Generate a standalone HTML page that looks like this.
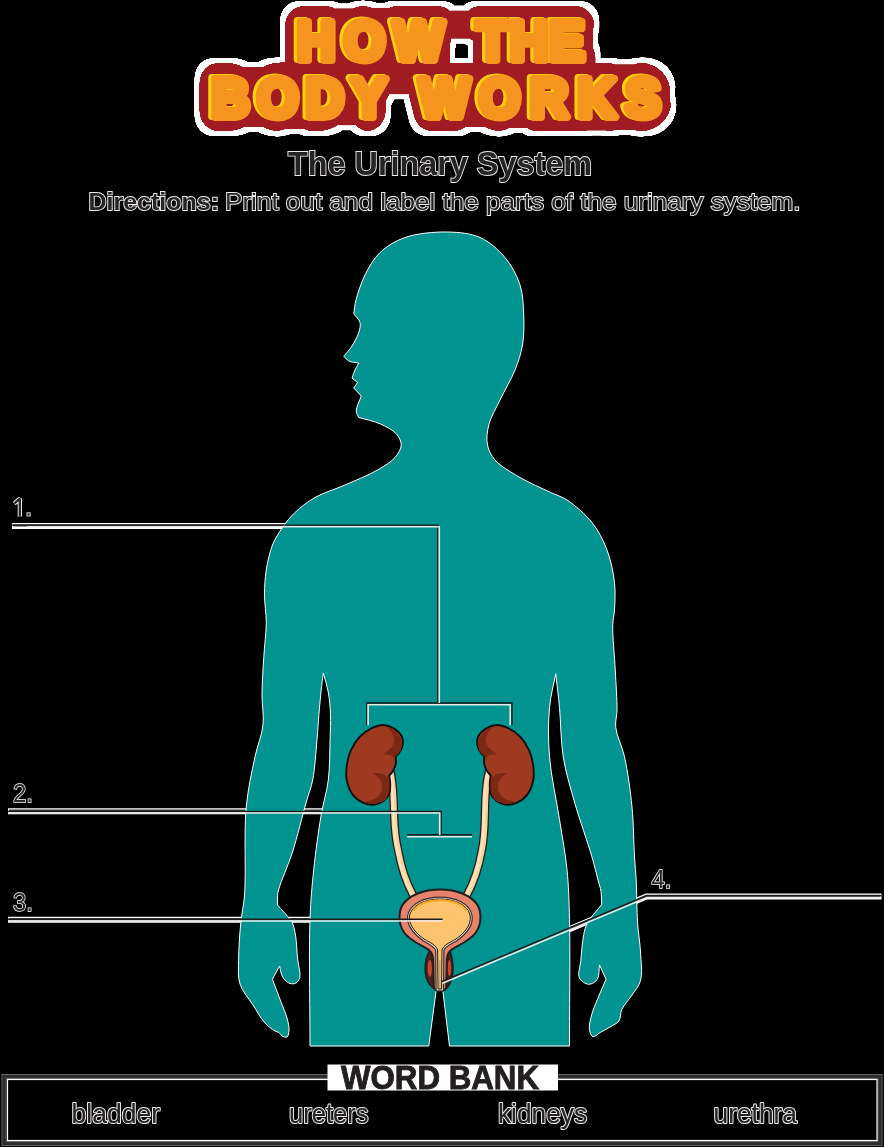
<!DOCTYPE html>
<html><head><meta charset="utf-8">
<style>
html,body{margin:0;padding:0;background:#000;}
body{width:884px;height:1147px;overflow:hidden;position:relative;font-family:"Liberation Sans",sans-serif;}
svg{position:absolute;left:0;top:0;will-change:transform;}
</style></head>
<body>
<svg width="884" height="1147" viewBox="0 0 884 1147">
<!-- Title -->
<defs>
<filter id="tf" x="-10%" y="-30%" width="120%" height="160%">
  <feComponentTransfer in="SourceAlpha" result="a"><feFuncA type="linear" slope="4"/></feComponentTransfer>
  <feMorphology operator="dilate" radius="4" in="a" result="d"/>
  <feMorphology operator="erode" radius="4" in="d" result="c"/>
  <feFlood flood-color="#fff"/>
  <feComposite in2="c" operator="in" result="white"/>
  <feMorphology operator="erode" radius="5.2" in="c" result="e"/>
  <feFlood flood-color="#a11d21"/>
  <feComposite in2="e" operator="in" result="red"/>
  <feMerge><feMergeNode in="white"/><feMergeNode in="red"/></feMerge>
</filter>
</defs>
<g font-family="Liberation Sans" font-weight="bold" font-size="56" stroke-linejoin="round">
  <g filter="url(#tf)">
  <g fill="#fff" stroke="#fff" stroke-width="39.5" transform="translate(-1.5,-0.5) scale(0.95,1)">
    <rect x="321.05" y="22" width="137.89" height="36" stroke="none"/><rect x="510.00" y="22" width="97.37" height="36" stroke="none"/><rect x="231.05" y="79" width="167.89" height="36" stroke="none"/><rect x="450.00" y="79" width="237.37" height="36" stroke="none"/>
    <text x="312.63" y="60" textLength="154.74" lengthAdjust="spacing">HOW</text><text x="501.58" y="60" textLength="114.21" lengthAdjust="spacing">THE</text><text x="222.63" y="117" textLength="184.74" lengthAdjust="spacing">BODY</text><text x="441.58" y="117" textLength="254.21" lengthAdjust="spacing">WORKS</text>
  </g>
  </g>
  <g fill="#ffd10f" stroke="#ffd10f" stroke-width="8" transform="translate(-3,-1) scale(0.95,1)">
    <text x="312.63" y="60" textLength="154.74" lengthAdjust="spacing">HOW</text><text x="501.58" y="60" textLength="114.21" lengthAdjust="spacing">THE</text><text x="222.63" y="117" textLength="184.74" lengthAdjust="spacing">BODY</text><text x="441.58" y="117" textLength="254.21" lengthAdjust="spacing">WORKS</text>
  </g>
  <g fill="#f7941d" stroke="#f7941d" stroke-width="8" transform="scale(0.95,1)">
    <text x="312.63" y="60" textLength="154.74" lengthAdjust="spacing">HOW</text><text x="501.58" y="60" textLength="114.21" lengthAdjust="spacing">THE</text><text x="222.63" y="117" textLength="184.74" lengthAdjust="spacing">BODY</text><text x="441.58" y="117" textLength="254.21" lengthAdjust="spacing">WORKS</text>
  </g>
</g>
<!-- subtitle -->
<g font-family="Liberation Sans" fill="#262425" stroke="#ededed" stroke-width="1.8" paint-order="stroke">
  <text x="288" y="175" font-size="33.5" font-weight="bold" textLength="304" lengthAdjust="spacingAndGlyphs">The Urinary System</text>
  <text x="88.5" y="210" font-size="24" font-weight="bold" textLength="130.5" lengthAdjust="spacingAndGlyphs">Directions:</text>
  <text x="225" y="210" font-size="24" textLength="575.5" lengthAdjust="spacingAndGlyphs">Print out and label the parts of the urinary system.</text>
</g>
<!-- halo lines -->
<g fill="none" stroke-linecap="butt">
  <g stroke="#fff" stroke-width="6">
  <line x1="12" y1="526" x2="300" y2="526"/>
  <line x1="8" y1="811.2" x2="345" y2="811.2"/>
  <line x1="8" y1="919.8" x2="330" y2="919.8"/>
  <polyline points="540,941.7 646.5,896.6 881.5,896.6"/>
  </g>
  <g stroke="#3a3839" stroke-width="2.4">
  <line x1="13" y1="525.4" x2="300" y2="525.4"/>
  <line x1="9" y1="810.8" x2="345" y2="810.8"/>
  <line x1="9" y1="919.2" x2="330" y2="919.2"/>
  <polyline points="540,940.9 646.5,896 880.5,896"/>
  </g>
</g>
<!-- body -->
<path d="M447.50,232.00 C459.08,232.23 470.36,233.18 480.00,237.50 C489.50,241.75 498.31,249.53 505.00,257.50 C511.61,265.39 516.88,275.32 520.00,285.00 C523.06,294.51 523.34,304.98 523.75,315.00 C524.16,324.98 524.09,335.55 522.50,345.00 C521.02,353.81 518.40,361.44 515.00,370.00 C511.15,379.71 504.55,390.41 500.00,400.00 C495.88,408.67 490.74,416.96 488.75,425.00 C487.05,431.88 486.27,438.96 487.50,445.00 C488.62,450.52 490.93,455.29 495.00,460.00 C500.48,466.36 511.01,472.21 520.00,477.50 C529.52,483.11 542.10,488.40 550.75,492.50 C557.00,495.47 561.30,496.25 567.00,500.00 C574.81,505.15 585.27,513.98 592.00,522.50 C598.49,530.72 603.27,540.18 607.00,550.00 C610.85,560.14 613.31,572.05 614.50,582.50 C615.58,591.99 614.95,602.22 614.50,610.00 C614.16,615.76 612.94,618.65 612.75,625.00 C612.42,635.97 614.53,655.44 615.25,670.00 C615.93,683.72 617.15,699.39 617.00,710.00 C616.90,717.03 615.03,720.99 615.75,727.50 C616.69,736.08 622.01,745.59 624.50,756.75 C627.71,771.15 630.33,790.23 632.00,807.00 C633.65,823.65 633.67,843.53 634.50,857.00 C635.07,866.14 635.73,871.14 636.20,880.00 C636.84,892.10 636.75,910.09 637.60,923.00 C638.30,933.63 640.02,942.35 640.50,952.00 C640.98,961.58 642.61,973.01 640.50,980.70 C638.89,986.55 635.06,990.27 632.00,995.00 C628.84,999.88 623.98,1004.75 621.80,1009.50 C620.02,1013.39 620.97,1018.05 618.90,1021.00 C616.93,1023.80 613.08,1025.10 610.00,1027.00 C606.85,1028.94 603.20,1030.76 600.20,1032.50 C597.60,1034.00 594.81,1037.33 593.00,1036.80 C591.23,1036.28 589.86,1032.51 589.40,1029.60 C588.78,1025.66 590.30,1019.98 591.60,1015.00 C593.04,1009.47 595.68,1003.78 598.00,998.00 C600.46,991.89 603.33,985.53 606.00,979.30 C603.83,974.50 601.67,969.70 599.50,964.90 C598.77,969.70 599.53,976.02 597.30,979.30 C595.46,982.01 591.58,984.42 588.70,984.30 C585.62,984.17 580.94,981.08 579.40,977.80 C577.50,973.76 580.19,966.91 580.80,960.60 C581.55,952.84 582.26,941.55 583.70,934.70 C584.68,930.04 585.17,927.29 587.30,923.20 C590.28,917.47 596.90,910.73 601.70,904.50 C601.47,900.17 601.65,895.67 601.00,891.50 C600.38,887.52 599.17,884.49 598.00,880.00 C596.34,873.65 594.68,866.27 592.00,857.00 C587.82,842.56 579.46,819.49 574.50,802.00 C570.05,786.32 565.75,772.47 563.25,757.00 C560.66,741.00 560.89,722.41 559.50,707.50 C558.35,695.17 557.00,685.00 555.75,673.75 C553.67,685.00 550.64,695.13 549.50,707.50 C548.14,722.31 548.13,739.40 549.50,756.75 C551.06,776.46 556.45,799.76 559.50,819.50 C562.22,837.11 565.33,852.79 567.00,869.50 C568.66,886.13 568.99,899.03 569.50,919.50 C570.31,952.05 569.50,1003.83 569.50,1046.00 C529.50,1046.00 489.50,1046.00 449.50,1046.00 C447.17,1026.67 444.83,1007.33 442.50,988.00 C440.50,988.00 438.50,988.00 436.50,988.00 C433.92,1007.33 431.33,1026.67 428.75,1046.00 C389.17,1046.00 349.58,1046.00 310.00,1046.00 C310.00,1003.83 308.78,952.04 310.00,919.50 C310.77,899.02 311.95,886.54 313.75,869.50 C315.64,851.58 318.50,830.67 321.25,814.50 C323.44,801.62 326.81,792.02 328.30,780.00 C329.89,767.10 329.74,751.37 330.10,739.50 C330.38,730.20 330.83,722.67 330.50,714.60 C330.19,706.93 329.57,699.33 328.30,692.20 C327.11,685.50 324.97,679.40 323.30,673.00 C322.60,678.67 321.87,683.81 321.20,690.00 C320.39,697.44 319.60,706.37 318.90,714.60 C318.20,722.87 317.85,730.20 317.00,739.50 C315.92,751.37 314.95,768.63 312.70,780.00 C311.01,788.53 308.76,793.17 306.25,802.00 C302.48,815.28 297.45,836.57 292.50,852.00 C288.12,865.63 280.44,882.33 278.50,890.00 C277.69,893.21 277.67,894.58 277.50,897.00 C277.32,899.57 277.50,902.33 277.50,905.00 C281.33,909.33 286.45,914.87 289.00,918.00 C290.37,919.68 291.11,920.17 292.00,922.00 C293.46,925.00 294.61,929.96 295.50,935.00 C296.69,941.74 296.83,951.53 297.60,959.00 C298.28,965.57 300.85,973.28 299.80,977.50 C299.17,980.03 297.70,982.02 296.00,983.00 C294.39,983.93 291.83,983.99 290.00,983.50 C288.16,983.00 286.37,981.43 285.00,980.00 C283.65,978.59 282.65,976.99 281.80,975.00 C280.73,972.51 280.33,969.00 279.60,966.00 C277.20,970.43 274.80,974.87 272.40,979.30 C275.27,986.87 278.40,995.09 281.00,1002.00 C283.18,1007.80 285.66,1012.99 287.00,1018.00 C288.13,1022.23 289.20,1026.55 289.00,1030.00 C288.85,1032.67 288.39,1036.15 287.00,1037.00 C285.84,1037.71 283.35,1036.79 282.00,1036.00 C280.72,1035.25 280.20,1033.34 279.00,1032.50 C277.85,1031.69 276.56,1031.90 275.00,1031.00 C272.22,1029.40 267.82,1026.08 264.50,1022.40 C260.39,1017.84 256.90,1011.10 253.00,1005.00 C248.75,998.36 242.38,991.51 240.00,984.00 C237.68,976.68 238.61,969.32 238.60,960.60 C238.59,949.55 239.68,934.36 240.80,923.00 C241.73,913.52 243.70,904.76 244.40,897.00 C244.96,890.75 244.88,887.65 245.10,880.00 C245.55,864.16 244.17,828.99 246.25,807.00 C247.98,788.62 251.85,771.53 255.00,756.75 C257.52,744.90 261.87,735.51 263.00,725.00 C264.08,714.93 261.93,705.56 262.00,695.00 C262.08,683.20 263.03,669.78 263.75,657.50 C264.45,645.63 266.21,633.47 266.25,622.50 C266.29,612.78 264.47,603.95 264.50,595.00 C264.53,586.47 264.94,578.28 266.25,570.00 C267.58,561.61 269.52,552.41 272.50,545.00 C275.13,538.45 278.71,532.95 282.50,527.50 C286.23,522.13 290.02,517.23 295.00,512.50 C300.63,507.15 307.35,501.87 315.00,497.50 C323.72,492.52 334.84,489.46 345.00,485.00 C355.66,480.32 368.53,475.21 377.50,470.00 C384.45,465.96 390.97,462.22 395.00,457.50 C398.25,453.69 401.16,449.08 401.25,445.00 C401.34,441.17 399.11,437.02 396.25,433.75 C392.69,429.68 385.97,426.41 380.00,423.75 C373.56,420.88 365.83,419.58 358.75,417.50 C357.92,415.33 356.31,413.63 356.25,411.00 C356.16,407.04 359.58,401.00 361.25,396.00 C358.75,393.33 356.25,390.67 353.75,388.00 C355.00,386.17 356.25,384.33 357.50,382.50 C355.67,381.00 353.83,379.50 352.00,378.00 C353.00,375.33 353.85,372.54 355.00,370.00 C356.11,367.55 357.50,365.33 358.75,363.00 C355.42,362.33 351.37,362.36 348.75,361.00 C346.60,359.88 345.42,357.83 343.75,356.25 C346.17,353.33 348.72,350.95 351.00,347.50 C353.78,343.29 357.32,337.11 358.75,332.50 C359.85,328.94 360.78,325.58 360.00,322.50 C359.19,319.32 355.83,316.67 353.75,313.75 C354.50,309.17 354.65,305.19 356.00,300.00 C357.86,292.83 361.03,282.89 365.00,275.00 C369.01,267.04 373.52,258.68 380.00,252.50 C386.73,246.08 395.15,240.92 405.00,237.50 C416.94,233.35 434.30,231.74 447.50,232.00Z" fill="#00938f" stroke="#fff" stroke-width="1"/>
<!-- ureters -->
<g fill="none" stroke-linecap="butt">
  <path d="M389,767 C392,774 393.5,790 394,812 C394.5,830 396,842 398.5,852 C401,866 405,880 413,895" stroke="#231f20" stroke-width="8.4"/>
  <path d="M389,767 C392,774 393.5,790 394,812 C394.5,830 396,842 398.5,852 C401,866 405,880 413,895" stroke="#fcd39a" stroke-width="5.8"/>
  <path d="M389,767 C392,774 393.5,790 394,812 C394.5,830 396,842 398.5,852 C401,866 405,880 413,895" stroke="#fde6c4" stroke-width="2" transform="translate(-0.8,0)"/>
  <path d="M491,766 C487.5,773 485.3,788 485,812 C484.7,830 483.8,842 481.5,852 C479,866 475,880 467,895" stroke="#231f20" stroke-width="8.4"/>
  <path d="M491,766 C487.5,773 485.3,788 485,812 C484.7,830 483.8,842 481.5,852 C479,866 475,880 467,895" stroke="#fcd39a" stroke-width="5.8"/>
  <path d="M491,766 C487.5,773 485.3,788 485,812 C484.7,830 483.8,842 481.5,852 C479,866 475,880 467,895" stroke="#fde6c4" stroke-width="2" transform="translate(-0.8,0)"/>
</g>
<!-- kidneys -->
<g id="kid">
  <path d="M383.40,725.00 C387.18,725.08 391.23,726.71 394.30,728.60 C397.20,730.38 400.09,733.07 401.50,735.80 C402.77,738.27 403.18,741.31 402.90,744.00 C402.61,746.75 401.06,749.89 399.70,752.10 C398.57,753.94 397.03,755.10 395.70,756.60 C395.70,759.03 396.11,761.59 395.70,763.90 C395.31,766.11 394.46,768.25 393.40,770.20 C392.33,772.16 390.67,773.80 389.30,775.60 C389.60,778.33 390.17,780.94 390.20,783.80 C390.23,786.94 390.47,790.80 389.30,793.70 C388.16,796.51 385.86,799.19 383.40,801.00 C380.90,802.84 377.60,804.25 374.40,804.60 C370.99,804.97 366.95,804.29 363.50,802.80 C359.68,801.15 355.45,798.18 352.70,794.60 C349.76,790.77 347.77,785.11 346.80,780.20 C345.87,775.46 346.16,770.56 346.80,765.70 C347.47,760.60 348.74,755.11 350.90,750.30 C353.09,745.43 356.39,740.41 359.90,736.70 C363.11,733.31 366.84,730.55 370.80,728.60 C374.69,726.68 379.36,724.92 383.40,725.00Z" fill="#9d3a1f" stroke="#151010" stroke-width="1.9"/>
  <path d="M386,727 C396,729 402,736 402,745 C401.5,751 398,755 394,757 C390,754.5 386,754 382,754.5 C388,751 394,747 394,740 C394,734 390,729 386,727Z" fill="#7b2914"/>
  <path d="M372,773.5 C378,772 385,774 389,778 C390,786 390,795 385,800 C380,803.5 372,805 364,802 C372,801 381,797 382,789 C383,781 378,775 372,773.5Z" fill="#7b2914"/>
</g>
<use href="#kid" transform="translate(880,0) scale(-1,1)"/>
<!-- bladder -->
<g stroke="#231f20">
  <path d="M430.5,950 C426,956 424.8,964 425.4,972 C426,980 429.5,985 433,987.5 C435,990 437,990.8 440,990.8 C443,990.8 445.5,990 447.2,987.5 C450.5,984 453,976 452.8,968 C452.6,960 451.5,955 449.5,950 Z" fill="#4a241b" stroke-width="1.8"/>
  <ellipse cx="429.8" cy="968.5" rx="2.1" ry="8.5" fill="#c8472b" stroke="none"/>
  <ellipse cx="449.4" cy="968" rx="1.8" ry="8" fill="#c8472b" stroke="none"/>
  <path d="M440,889.4 C456,889.4 471,895 477.5,905 C482,913 481.5,925 475.5,933 C469.5,941 457,946 450.5,950.5 C448,953 447,956 446.8,960 L446.2,987 C446,989.5 443.5,990.5 440,990.5 C436.5,990.5 434,989.5 433.8,987 L433.2,960 C433,956 432,953 429.5,950.5 C423,946 410.5,941 404.5,933 C398.5,925 398,913 402.5,905 C409,895 424,889.4 440,889.4 Z" fill="#e8836b" stroke-width="2"/>
  <path d="M439.8,899 C455,899 468.5,905 470.2,916 C471.5,926 463,934 456,939 C449,943 443.5,945 442,950 L441.6,989 L438,989 L437.6,950 C436,945 431,943 424,939 C417,934 408.5,926 409.5,916 C411.5,905 425,899 439.8,899 Z" fill="none" stroke="#3a3233" stroke-width="5"/>
  <path d="M439.8,899 C455,899 468.5,905 470.2,916 C471.5,926 463,934 456,939 C449,943 443.5,945 442,950 L441.6,989 L438,989 L437.6,950 C436,945 431,943 424,939 C417,934 408.5,926 409.5,916 C411.5,905 425,899 439.8,899 Z" fill="none" stroke="#efd6bd" stroke-width="2.6"/>
  <path d="M439.8,899 C455,899 468.5,905 470.2,916 C471.5,926 463,934 456,939 C449,943 443.5,945 442,950 L441.6,989 L438,989 L437.6,950 C436,945 431,943 424,939 C417,934 408.5,926 409.5,916 C411.5,905 425,899 439.8,899 Z" fill="#fec46d" stroke-width="1"/>
  <path d="M439.8,960 L439.8,988" stroke="#c79a5a" stroke-width="1.2" fill="none"/>
  <path d="M413,911 C419,903 429,900.3 439.8,900.3 C451,900.3 461,903 467,911" fill="none" stroke="#f6a623" stroke-width="2"/>
</g>
<!-- labels -->
<g font-family="Liberation Sans" fill="#2a2829" stroke="#fff" stroke-width="1.5" paint-order="stroke" font-size="26">
  <text x="13" y="802.4" textLength="20" lengthAdjust="spacingAndGlyphs">2.</text>
  <text x="13" y="910.5" textLength="20" lengthAdjust="spacingAndGlyphs">3.</text>
  <text x="651.5" y="888" textLength="20" lengthAdjust="spacingAndGlyphs">4.</text>
</g>
<g fill="none" stroke-linecap="butt" stroke-linejoin="miter">
  <path d="M14.2,503.6 L19.8,498.6 L19.8,516.5" stroke="#fff" stroke-width="4.2" stroke-linejoin="bevel"/>
  <rect x="26.6" y="512.4" width="4" height="4" fill="#fff" stroke="none"/>
  <rect x="27.4" y="513.2" width="2.4" height="2.4" fill="#2a2829" stroke="none"/>
  <path d="M14.2,503.6 L19.8,498.6 L19.8,516.5" stroke="#2a2829" stroke-width="2.4" stroke-linejoin="bevel"/>
</g>
<!-- label lines -->
<g fill="none" stroke-linecap="butt" stroke-linejoin="miter">
  <g stroke="#1e1c1d" stroke-width="1.4">
    <polyline points="12,525.1 437.8,525.1 437.8,703"/>
    <polyline points="366.8,725.3 366.8,703 512,703 512,725.3"/>
    <polyline points="8,811.5 441.2,811.5 441.2,835"/>
    <line x1="407.2" y1="834.8" x2="472" y2="834.8"/>
    <line x1="8" y1="919.2" x2="442.6" y2="919.2"/>
    <polyline points="442,981.5 646.5,895.8 881.4,895.8"/>
  </g>
  <g stroke="#e8eaea" stroke-width="1.6">
    <polyline points="27,526.8 439.3,526.8 439.3,703"/>
    <polyline points="368.1,725.3 368.1,704.8 510.2,704.8 510.2,725.3"/>
    <polyline points="8,813 439.7,813 439.7,835"/>
    <line x1="407.2" y1="836.8" x2="472" y2="836.8"/>
    <line x1="8" y1="921" x2="442.6" y2="921"/>
    <polyline points="442.5,983.3 647,897.5 881.4,897.5"/>
  </g>
</g>
<!-- word bank -->
<rect x="4" y="1076.5" width="876" height="67" fill="none" stroke="#777" stroke-width="5"/>
<rect x="4" y="1076.5" width="876" height="67" fill="none" stroke="#2f2d2e" stroke-width="3.5"/>
<rect x="7.5" y="1079.5" width="869.5" height="61" fill="none" stroke="#fff" stroke-width="1.2"/>
<rect x="327.5" y="1064.5" width="230.5" height="26" fill="#fff"/>
<text x="341" y="1089.3" font-family="Liberation Sans" font-weight="bold" font-size="32.5" fill="#231f20" stroke="#231f20" stroke-width="0.9" textLength="198" lengthAdjust="spacingAndGlyphs">WORD BANK</text>
<g font-family="Liberation Sans" font-size="28" fill="#fff" stroke="#f0f0f0" stroke-width="2.2" stroke-linejoin="round">
  <text x="71.5" y="1123" textLength="88.5" lengthAdjust="spacingAndGlyphs">bladder</text>
  <text x="289" y="1123" textLength="79.5" lengthAdjust="spacingAndGlyphs">ureters</text>
  <text x="498" y="1123" textLength="89" lengthAdjust="spacingAndGlyphs">kidneys</text>
  <text x="713.5" y="1123" textLength="83.5" lengthAdjust="spacingAndGlyphs">urethra</text>
</g>
<g font-family="Liberation Sans" font-size="28" fill="#262425" stroke="#262425" stroke-width="0.15">
  <text x="71.5" y="1123" textLength="88.5" lengthAdjust="spacingAndGlyphs">bladder</text>
  <text x="289" y="1123" textLength="79.5" lengthAdjust="spacingAndGlyphs">ureters</text>
  <text x="498" y="1123" textLength="89" lengthAdjust="spacingAndGlyphs">kidneys</text>
  <text x="713.5" y="1123" textLength="83.5" lengthAdjust="spacingAndGlyphs">urethra</text>
</g>
</svg>
</body></html>
